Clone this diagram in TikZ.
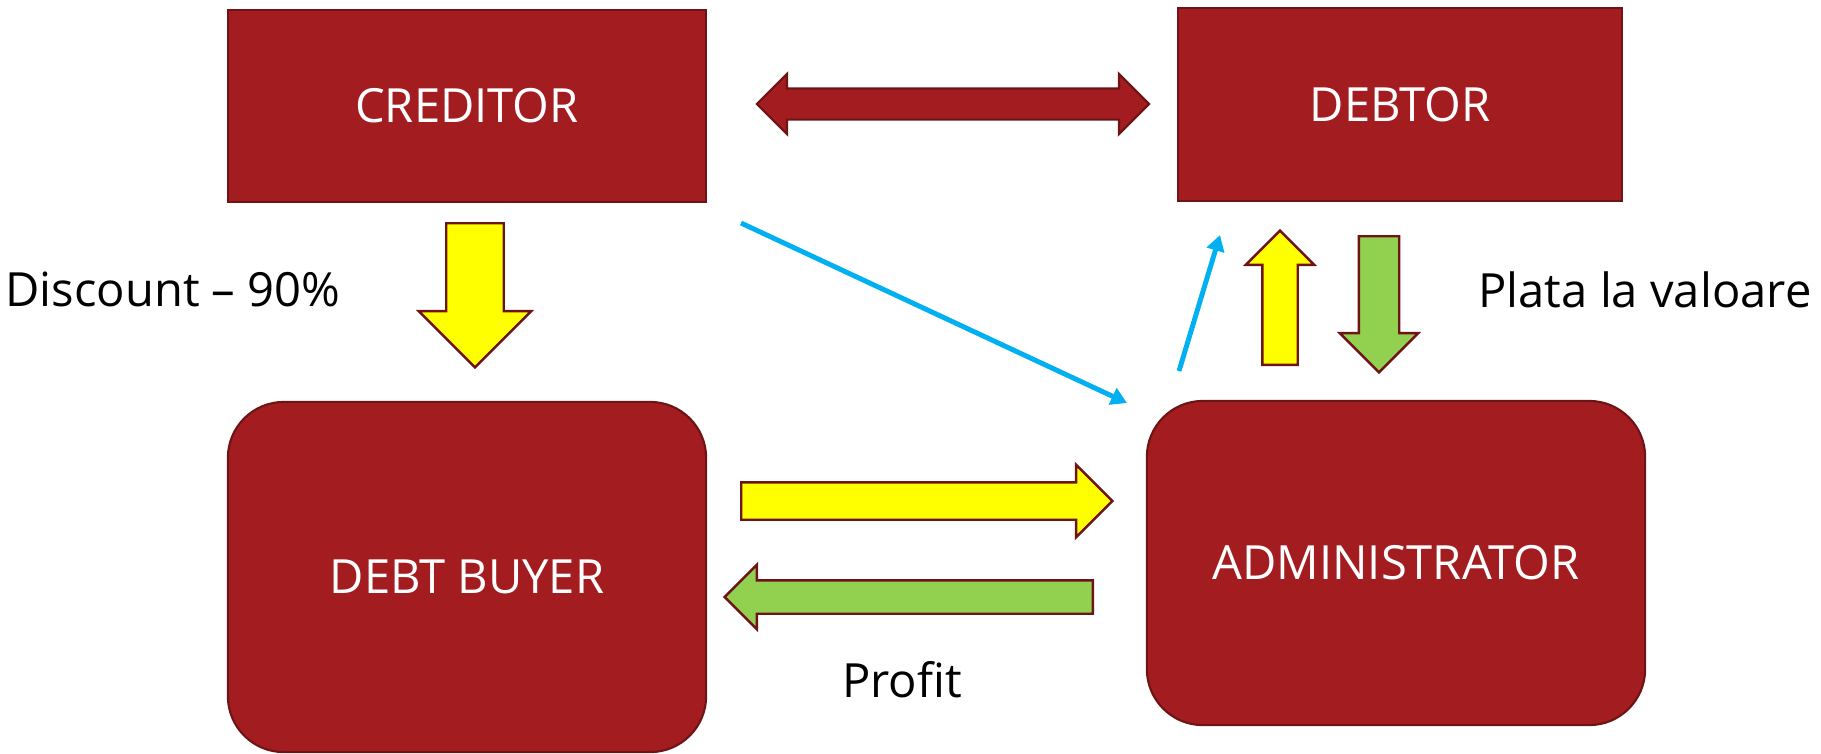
\documentclass[tikz,border=0pt]{standalone}
\usepackage{fontspec}
\setmainfont{Open Sans}
\usetikzlibrary{shapes.arrows,arrows.meta}
\definecolor{boxred}{HTML}{A31C20}
\definecolor{boxedge}{HTML}{6E1417}
\definecolor{flowyellow}{HTML}{FFFF00}
\definecolor{flowgreen}{HTML}{92D050}
\definecolor{linkblue}{HTML}{00B0F0}
\begin{document}
\begin{tikzpicture}[x=0.01cm,y=-0.01cm,
	every node/.style={font=\fontsize{13.4}{16}\selectfont},
	party/.style={rectangle,draw=boxedge,fill=boxred,line width=0.6pt,text=white,inner sep=0},
	agent/.style={party,rounded corners=0.56cm},
	flow/.style={single arrow,draw=boxedge,line width=0.7pt,anchor=tail,
		inner sep=#1,single arrow head extend=#1},
	link/.style={draw=linkblue,line width=1.4pt,-{Triangle[length=4.5pt,width=5pt]}}]
\useasboundingbox (0,0) rectangle (1821,753);
% the four parties
\node[party,minimum width=4.78cm,minimum height=1.92cm] (creditor) at (467,106) {CREDITOR};
\node[party,minimum width=4.44cm,minimum height=1.93cm] (debtor) at (1400,104.5) {DEBTOR};
\node[agent,minimum width=4.78cm,minimum height=3.50cm] (buyer) at (467,577) {DEBT BUYER};
\node[agent,minimum width=4.98cm,minimum height=3.24cm] (admin) at (1396,563) {ADMINISTRATOR};
% block arrows
\node[double arrow,draw=boxedge,fill=boxred,line width=0.6pt,inner sep=0.145cm,
	minimum height=3.92cm,double arrow head extend=0.145cm] (deal) at (953,104) {};
\node[flow=0.275cm,fill=flowyellow,minimum height=1.44cm,shape border rotate=270] (sale) at (475,222) {};
\node[flow=0.175cm,fill=flowyellow,minimum height=3.71cm] (mandate) at (740,501) {};
\node[flow=0.155cm,fill=flowgreen,minimum height=3.68cm,shape border rotate=180] (share) at (1094,597) {};
\node[flow=0.165cm,fill=flowyellow,minimum height=1.34cm,shape border rotate=90] (claim) at (1280,366) {};
\node[flow=0.19cm,fill=flowgreen,minimum height=1.36cm,shape border rotate=270] (payment) at (1379,235) {};
% blue links
\coordinate (c1) at (741,223);
\coordinate (c2) at (1127,403);
\draw[link] (c1) -- (c2);
\coordinate (a1) at (1179,371);
\coordinate (a2) at (1220,235);
\draw[link] (a1) -- (a2);
% labels
\node (discount) at (173,289) {Discount -- 90\%};
\node (plata) at (1645,290) {Plata la valoare};
\node (profit) at (902,680) {Profit};
\end{tikzpicture}
\end{document}
